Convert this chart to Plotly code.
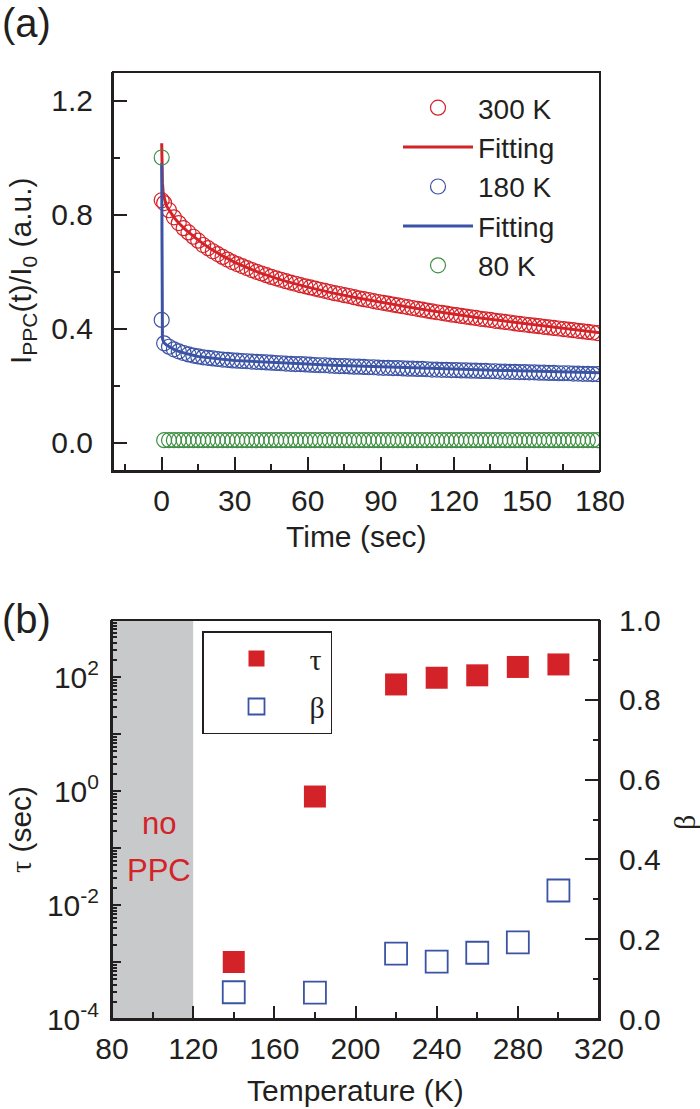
import plotly.graph_objects as go

# ---- panel (a): photocurrent decay ----
time_s = [
    0, 1, 3, 5, 7, 9, 11, 13, 15, 17,
    19, 21, 23, 25, 27, 29, 31, 33, 35, 37,
    39, 41, 43, 45, 47, 49, 51, 53, 55, 57,
    59, 61, 63, 65, 67, 69, 71, 73, 75, 77,
    79, 81, 83, 85, 87, 89, 91, 93, 95, 97,
    99, 101, 103, 105, 107, 109, 111, 113, 115, 117,
    119, 121, 123, 125, 127, 129, 131, 133, 135, 137,
    139, 141, 143, 145, 147, 149, 151, 153, 155, 157,
    159, 161, 163, 165, 167, 169, 171, 173, 175, 177,
    179,
]
i_300k = [
    0.850, 0.840, 0.815, 0.790, 0.770, 0.752, 0.737, 0.722, 0.708, 0.693,
    0.682, 0.671, 0.661, 0.651, 0.642, 0.633, 0.626, 0.619, 0.612, 0.605,
    0.599, 0.593, 0.587, 0.581, 0.576, 0.571, 0.566, 0.561, 0.557, 0.552,
    0.548, 0.544, 0.540, 0.536, 0.532, 0.528, 0.524, 0.521, 0.517, 0.514,
    0.510, 0.506, 0.503, 0.500, 0.496, 0.493, 0.490, 0.487, 0.484, 0.481,
    0.478, 0.475, 0.472, 0.469, 0.466, 0.463, 0.460, 0.457, 0.455, 0.452,
    0.449, 0.447, 0.444, 0.442, 0.439, 0.437, 0.434, 0.432, 0.430, 0.427,
    0.425, 0.423, 0.421, 0.418, 0.416, 0.414, 0.412, 0.410, 0.408, 0.406,
    0.404, 0.402, 0.400, 0.398, 0.396, 0.394, 0.392, 0.390, 0.388, 0.386,
    0.384,
]
i_180k = [
    0.430, 0.348, 0.336, 0.327, 0.320, 0.314, 0.309, 0.305, 0.302, 0.299,
    0.297, 0.295, 0.293, 0.291, 0.290, 0.288, 0.287, 0.286, 0.285, 0.284,
    0.283, 0.282, 0.281, 0.280, 0.279, 0.278, 0.277, 0.276, 0.275, 0.275,
    0.274, 0.273, 0.272, 0.271, 0.271, 0.270, 0.269, 0.268, 0.268, 0.267,
    0.266, 0.266, 0.265, 0.264, 0.264, 0.263, 0.262, 0.262, 0.261, 0.261,
    0.260, 0.259, 0.259, 0.258, 0.258, 0.257, 0.256, 0.256, 0.255, 0.255,
    0.254, 0.254, 0.253, 0.253, 0.252, 0.252, 0.251, 0.251, 0.250, 0.250,
    0.249, 0.249, 0.248, 0.248, 0.247, 0.247, 0.246, 0.246, 0.245, 0.245,
    0.244, 0.244, 0.243, 0.243, 0.243, 0.242, 0.242, 0.241, 0.241, 0.240,
    0.240,
]
i_80k = [
    1.000, 0.008, 0.008, 0.008, 0.008, 0.008, 0.008, 0.008, 0.008, 0.008,
    0.008, 0.008, 0.008, 0.008, 0.008, 0.008, 0.008, 0.008, 0.008, 0.008,
    0.008, 0.008, 0.008, 0.008, 0.008, 0.008, 0.008, 0.008, 0.008, 0.008,
    0.008, 0.008, 0.008, 0.008, 0.008, 0.008, 0.008, 0.008, 0.008, 0.008,
    0.008, 0.008, 0.008, 0.008, 0.008, 0.008, 0.008, 0.008, 0.008, 0.008,
    0.008, 0.008, 0.008, 0.008, 0.008, 0.008, 0.008, 0.008, 0.008, 0.008,
    0.008, 0.008, 0.008, 0.008, 0.008, 0.008, 0.008, 0.008, 0.008, 0.008,
    0.008, 0.008, 0.008, 0.008, 0.008, 0.008, 0.008, 0.008, 0.008, 0.008,
    0.008, 0.008, 0.008, 0.008, 0.008, 0.008, 0.008, 0.008, 0.008, 0.008,
    0.008,
]

fit_time_s = [0, 0.1, 0.3, 0.6, 1, 2, 3, 5, 7, 10, 15, 20, 25, 30, 40, 50,
              60, 70, 80, 90, 100, 110, 120, 130, 140, 150, 160, 170, 180]
fit_300k = [1.05, 0.96, 0.91, 0.88, 0.86, 0.83, 0.815, 0.79, 0.77, 0.745,
            0.71, 0.68, 0.655, 0.632, 0.596, 0.568, 0.545, 0.525, 0.508,
            0.492, 0.477, 0.463, 0.450, 0.438, 0.427, 0.416, 0.405, 0.395,
            0.385]
fit_180k = [0.98, 0.38, 0.365, 0.357, 0.350, 0.342, 0.336, 0.327, 0.320,
            0.312, 0.302, 0.296, 0.292, 0.288, 0.283, 0.279, 0.275, 0.271,
            0.268, 0.265, 0.262, 0.260, 0.257, 0.255, 0.253, 0.251, 0.249,
            0.247, 0.245]

# ---- panel (b): fit parameters vs temperature ----
temp_k = [140, 180, 220, 240, 260, 280, 300]
tau_s = [1.0e-3, 0.8, 74, 97, 107, 150, 166]
beta = [0.067, 0.066, 0.164, 0.144, 0.166, 0.192, 0.322]

RED = "#d42229"
BLUE = "#3b53a4"
GREEN = "#3f8f44"
INK = "#231f20"
FONT = "Liberation Sans, Arial, sans-serif"
SERIF = "Liberation Serif, Times New Roman, serif"

W, H = 700, 1109


def px(x):
    return x / W


def py(y):
    return 1 - y / H


fig = go.Figure()

circle = dict(symbol="circle-open", size=15, line=dict(width=1.2))
fig.add_trace(go.Scatter(x=time_s, y=i_300k, mode="markers", name="300 K",
                         marker=dict(circle, color=RED), legend="legend"))
fig.add_trace(go.Scatter(x=fit_time_s, y=fit_300k, mode="lines", name="Fitting",
                         line=dict(color=RED, width=3), legend="legend"))
fig.add_trace(go.Scatter(x=time_s, y=i_180k, mode="markers", name="180 K",
                         marker=dict(circle, color=BLUE), legend="legend"))
fig.add_trace(go.Scatter(x=fit_time_s, y=fit_180k, mode="lines", name="Fitting",
                         line=dict(color=BLUE, width=3), legend="legend"))
fig.add_trace(go.Scatter(x=time_s, y=i_80k, mode="markers", name="80 K",
                         marker=dict(circle, color=GREEN), legend="legend"))

fig.add_trace(go.Scatter(x=temp_k, y=tau_s, mode="markers", name="τ",
                         xaxis="x2", yaxis="y2", legend="legend2", legendgroup="tau",
                         marker=dict(symbol="square", size=22, color=RED)))
fig.add_trace(go.Scatter(x=temp_k, y=beta, mode="markers", name="β",
                         xaxis="x2", yaxis="y3", legend="legend2", legendgroup="beta",
                         marker=dict(symbol="square-open", size=22, color=BLUE,
                                     line=dict(width=1.8))))

axis_common = dict(showline=True, linewidth=2, linecolor=INK, showgrid=False,
                   zeroline=False, ticks="inside", tickwidth=2, tickcolor=INK,
                   automargin=False,
                   tickfont=dict(size=30, family=FONT, color=INK))

fig.update_layout(
    template="none",
    width=W, height=H,
    margin=dict(l=0, r=0, t=0, b=0, autoexpand=False),
    paper_bgcolor="white", plot_bgcolor="white",
    font=dict(family=FONT, size=30, color=INK),
    xaxis=dict(axis_common, domain=[px(113), px(600)], anchor="y",
               range=[-20, 180], tickvals=[0, 30, 60, 90, 120, 150, 180],
               ticklen=14, ticklabelstandoff=2,
               minor=dict(dtick=15, tick0=0, ticks="inside", ticklen=7,
                          tickwidth=2, tickcolor=INK)),
    yaxis=dict(axis_common, domain=[py(471), py(72)], anchor="x",
               range=[-0.1, 1.3], tickvals=[0, 0.4, 0.8, 1.2],
               ticktext=["0.0", "0.4", "0.8", "1.2"], ticklen=14,
               ticklabelstandoff=12,
               minor=dict(dtick=0.2, tick0=0, ticks="inside", ticklen=7,
                          tickwidth=2, tickcolor=INK)),
    xaxis2=dict(axis_common, domain=[px(112), px(599)], anchor="y2",
                range=[80, 320], tickvals=[80, 120, 160, 200, 240, 280, 320],
                ticklen=13, ticklabelstandoff=2,
                minor=dict(dtick=20, tick0=80, ticks="inside", ticklen=7,
                           tickwidth=2, tickcolor=INK)),
    yaxis2=dict(axis_common, domain=[py(1019), py(620)], anchor="x2",
                type="log", range=[-4, 3],
                tickvals=[1e-4, 1e-3, 1e-2, 1e-1, 1, 10, 100],
                ticktext=["10<sup>-4</sup>", "", "10<sup>-2</sup>", "",
                          "10<sup>0</sup>", "", "10<sup>2</sup>"],
                ticklen=9, ticklabelstandoff=5,
                minor=dict(tickvals=[k * 10.0 ** n for n in range(-4, 3)
                                     for k in range(2, 10)],
                           ticks="inside", ticklen=5, tickwidth=1.5,
                           tickcolor=INK)),
    yaxis3=dict(axis_common, overlaying="y2", anchor="x2", side="right",
                range=[0, 1], tickvals=[0, 0.2, 0.4, 0.6, 0.8, 1.0],
                ticktext=["0.0", "0.2", "0.4", "0.6", "0.8", "1.0"],
                ticklen=14, ticklabelstandoff=12,
                minor=dict(dtick=0.1, tick0=0, ticks="inside", ticklen=6,
                           tickwidth=2, tickcolor=INK)),
    legend=dict(x=px(398), y=py(83), xanchor="left", yanchor="top",
                font=dict(size=28, family=FONT, color=INK),
                bgcolor="rgba(0,0,0,0)", borderwidth=0, itemwidth=70),
    legend2=dict(x=px(202), y=py(631), xanchor="left", yanchor="top",
                 font=dict(size=30, family=SERIF, color=INK),
                 bgcolor="white", bordercolor=INK, borderwidth=1.5,
                 itemwidth=96, tracegroupgap=6),
    showlegend=True,
)

# no-PPC region
fig.add_shape(type="rect", xref="x2", yref="y2 domain", x0=80, x1=120,
              y0=0, y1=1, fillcolor="#c8c9cb", line=dict(width=0), layer="below")

# frames around both panels
for xr, yr in [("x domain", "y domain"), ("x2 domain", "y2 domain")]:
    fig.add_shape(type="rect", xref=xr, yref=yr, x0=0, x1=1, y0=0, y1=1,
                  line=dict(color=INK, width=2), fillcolor="rgba(0,0,0,0)",
                  layer="above")

notes = [
    dict(text="(a)", x=0, y=py(23), xanchor="left", font=dict(size=40)),
    dict(text="(b)", x=0, y=py(619), xanchor="left", font=dict(size=40)),
    dict(text="I<sub>PPC</sub>(t)/I<sub>0</sub> (a.u.)", x=px(22), y=py(271),
         textangle=-90),
    dict(text="Time (sec)", x=px(356), y=py(536)),
    dict(text="Temperature (K)", x=px(355), y=py(1090)),
    dict(text='<span style="font-family:Liberation Serif">τ</span> (sec)',
         x=px(20), y=py(830), textangle=-90),
    dict(text="β", x=px(684), y=py(823), textangle=-90,
         font=dict(size=30, family=SERIF)),
]
for n in notes:
    n.setdefault("font", dict(size=30))
    n.setdefault("xanchor", "center")
    fig.add_annotation(xref="paper", yref="paper", showarrow=False,
                       yanchor="middle", **n)

fig.add_annotation(text="no", xref="x2", yref="paper", x=103, y=py(823),
                   xanchor="center", yanchor="middle", showarrow=False,
                   font=dict(size=31, color=RED))
fig.add_annotation(text="PPC", xref="x2", yref="paper", x=103, y=py(870),
                   xanchor="center", yanchor="middle", showarrow=False,
                   font=dict(size=31, color=RED))

fig.write_html("out.html", config={"displayModeBar": False},
               post_script="document.body.style.margin='0';"
                           "document.body.style.padding='0';")
